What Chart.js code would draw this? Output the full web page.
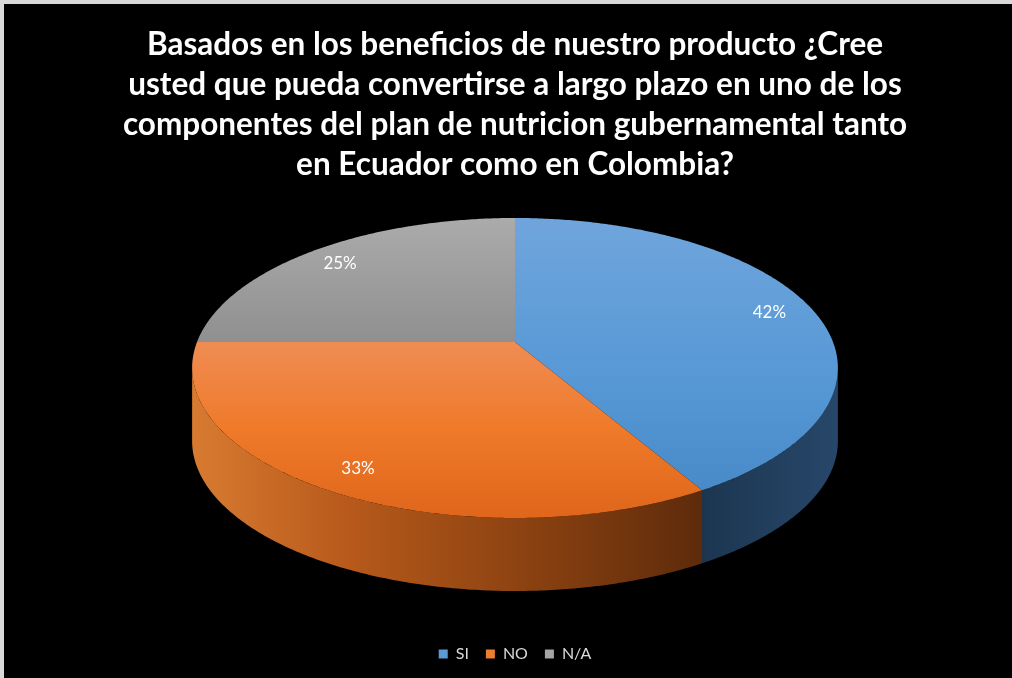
<!DOCTYPE html>
<html>
<head>
<meta charset="utf-8">
<script src="https://cdn.jsdelivr.net/npm/chart.js@4"></script>
<style>
  html, body { margin: 0; padding: 0; background: #d9d9d9; overflow: hidden; }
  #wrap { position: absolute; left: 4px; top: 4px; width: 1008px; height: 674px; background: #000; }
</style>
</head>
<body>
<div id="wrap"><canvas id="pieChart"></canvas></div>
<script>
const categories = ['SI', 'NO', 'N/A'];
// respondents per answer; the labels show the rounded share of the total
const answers = [5, 4, 3];
const titleLines = [
    'Basados en los beneficios de nuestro producto ¿Cree',
    'usted que pueda convertirse a largo plazo en uno de los',
    'componentes del plan de nutricion gubernamental tanto',
    'en Ecuador como en Colombia?'
];

const baseColors = ['#5b9bd5', '#ed7d31', '#a5a5a5'];
// top face: vertical shading (top -> bottom of the ellipse)
const topShades = [
    [[0, '#70a5dc'], [0.5, '#5899d6'], [1, '#4586c6']],
    [[0, '#f29a66'], [0.42, '#ef8c52'], [0.7, '#ef7a2a'], [1, '#df661b']],
    [[0, '#ababab'], [0.42, '#8f8f8f'], [1, '#8a8a8a']]
];
// outer wall: horizontal shading (left -> right of each wall)
const wallShades = [
    [[0, '#1c3650'], [1, '#27476a']],
    [[0, '#d87b31'], [0.3, '#b85a1b'], [0.65, '#8c4211'], [1, '#5e2b0b']],
    [[0, '#6e6e6e'], [1, '#4a4a4a']]
];

// oblique view of the pie: center row, radii, perspective factor, thickness
const view = { cy: 338, rx: 318, ry: 145.5, k: 0.1733, depth: 73, labelR: 0.86 };

function project(cx, a, r, drop) {
    const u = r * Math.cos(a), w = r * Math.sin(a);
    const s = 1 / (1 - view.k * w);
    return [cx + view.rx * u * s, view.cy + view.ry * w * s + drop];
}

function arcPoints(cx, a0, a1, drop) {
    const pts = [];
    const n = Math.max(2, Math.ceil((a1 - a0) / 0.01));
    for (let i = 0; i <= n; i++) {
        pts.push(project(cx, a0 + (a1 - a0) * i / n, 1, drop));
    }
    return pts;
}

function makeGradient(ctx, x0, y0, x1, y1, stops) {
    const g = ctx.createLinearGradient(x0, y0, x1, y1);
    stops.forEach(([p, c]) => g.addColorStop(p, c));
    return g;
}

const pie3d = {
    id: 'pie3d',
    beforeDatasetsDraw(chart) {
        const ctx = chart.ctx;
        const arcs = chart.getDatasetMeta(0).data;
        const total = answers.reduce((a, b) => a + b, 0);
        const cx = arcs[0].x;
        const topY = view.cy - view.ry / (1 + view.k);
        const botY = view.cy + view.ry / (1 - view.k);
        // where the side of the pie turns away from the viewer
        const edge = Math.asin(view.k);

        ctx.save();

        // outer walls first
        arcs.forEach((arc, i) => {
            const a0 = Math.max(arc.startAngle, edge);
            const a1 = Math.min(arc.endAngle, Math.PI - edge);
            if (a1 <= a0) return;
            const top = arcPoints(cx, a0, a1, 0);
            const bottom = arcPoints(cx, a0, a1, view.depth).reverse();
            const xs = top.map(p => p[0]);
            const xMin = Math.min(...xs), xMax = Math.max(...xs);
            ctx.beginPath();
            top.concat(bottom).forEach(([x, y], j) => j ? ctx.lineTo(x, y) : ctx.moveTo(x, y));
            ctx.closePath();
            ctx.fillStyle = makeGradient(ctx, xMin, 0, xMax, 0, wallShades[i]);
            ctx.fill();
        });

        // top faces
        arcs.forEach((arc, i) => {
            const [x0, y0] = project(cx, 0, 0, 0);
            ctx.beginPath();
            ctx.moveTo(x0, y0);
            arcPoints(cx, arc.startAngle, arc.endAngle, 0).forEach(([x, y]) => ctx.lineTo(x, y));
            ctx.closePath();
            ctx.fillStyle = makeGradient(ctx, 0, topY, 0, botY, topShades[i]);
            ctx.fill();
        });

        // percentage labels
        ctx.fillStyle = '#ffffff';
        ctx.font = '17px Lato';
        ctx.textAlign = 'center';
        ctx.textBaseline = 'middle';
        arcs.forEach((arc, i) => {
            const mid = (arc.startAngle + arc.endAngle) / 2;
            const [x, y] = project(cx, mid, view.labelR, 0);
            ctx.fillText(Math.round(answers[i] / total * 100) + '%', x, y + 2);
        });

        ctx.restore();
        return false;
    }
};

new Chart(document.getElementById('pieChart'), {
    type: 'pie',
    data: {
        labels: categories,
        datasets: [{
            data: answers,
            backgroundColor: baseColors,
            borderWidth: 0
        }]
    },
    options: {
        responsive: true,
        maintainAspectRatio: false,
        animation: false,
        layout: { padding: { left: 14, right: 0, top: 0, bottom: 6 } },
        plugins: {
            title: {
                display: true,
                text: titleLines,
                color: '#ffffff',
                font: { family: 'Lato', size: 31.5, weight: 'bold', lineHeight: 40 / 31.5 },
                padding: { top: 21, bottom: 10 }
            },
            legend: {
                position: 'bottom',
                labels: {
                    color: '#d9d9d9',
                    font: { family: 'Lato', size: 16 },
                    boxWidth: 9,
                    boxHeight: 9,
                    padding: 17
                }
            },
            tooltip: { enabled: false }
        }
    },
    plugins: [pie3d]
});
</script>
</body>
</html>
